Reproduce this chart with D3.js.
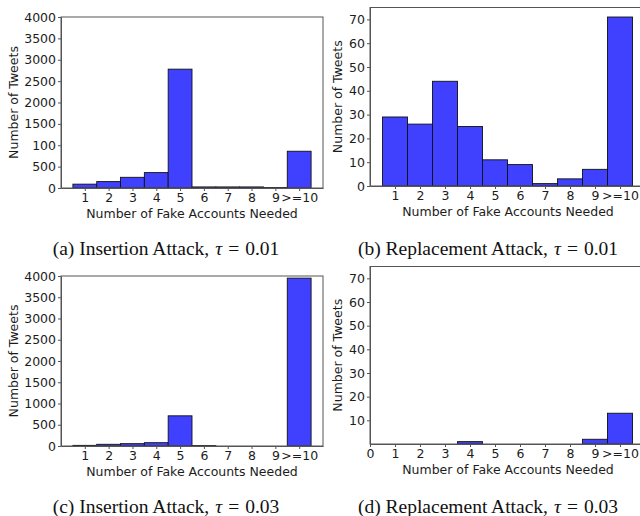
<!DOCTYPE html>
<html>
<head>
<meta charset="utf-8">
<script src="https://cdn.jsdelivr.net/npm/d3@7"></script>
<style>
  body { margin: 0; background: #fff; }
  svg { display: block; overflow: hidden; }
</style>
</head>
<body>
<svg id="chart" width="640" height="516"></svg>
<script>
const bins = [1, 2, 3, 4, 5, 6, 7, 8, 9, 10];
const binLabels = ["1", "2", "3", "4", "5", "6", "7", "8", "9", ">=10"];

// tweets per number of fake accounts
const insertion001 = [90, 150, 250, 360, 2780, 25, 25, 25, 10, 860];
const replacement001 = [29, 26, 44, 25, 11, 9, 1, 3, 7, 71];
const insertion003 = [15, 40, 55, 78, 710, 10, 0, 0, 0, 3950];
const replacement003 = [0, 0, 0, 1, 0, 0, 0, 0, 2, 13];

const insertionTicks = [0, 500, 1000, 1500, 2000, 2500, 3000, 3500, 4000];
// the original panel (a) prints "100" at the 1000 tick
const insertionTickLabelsA = ["0", "500", "100", "1500", "2000", "2500", "3000", "3500", "4000"];
const insertionTickLabelsC = ["0", "500", "1000", "1500", "2000", "2500", "3000", "3500", "4000"];
const replacementTicks = [0, 10, 20, 30, 40, 50, 60, 70];
const replacementTicksD = [10, 20, 30, 40, 50, 60, 70];

const captions = [
  ["(a) Insertion Attack,", "0.01"],
  ["(b) Replacement Attack,", "0.01"],
  ["(c) Insertion Attack,", "0.03"],
  ["(d) Replacement Attack,", "0.03"]
];

const svg = d3.select("#chart");
const fill = "#4040ff";
const ink = "#1c1c1c";
const spine = "#555";

const panels = [
  { values: insertion001, left: 61, right: 323, top: 17, bottom: 188, yMax: 4000,
    yTicks: insertionTicks, yLabels: insertionTickLabelsA, yLabelX: 14, zeroTick: false,
    caption: captions[0], capX: 166, capY: 255 },
  { values: replacement001, left: 370, right: 645, top: 7.5, bottom: 186, yMax: 75,
    yTicks: replacementTicks, yLabels: replacementTicks.map(String), yLabelX: 338, zeroTick: false,
    caption: captions[1], capX: 488, capY: 255 },
  { values: insertion003, left: 61, right: 323, top: 276, bottom: 446, yMax: 4000,
    yTicks: insertionTicks, yLabels: insertionTickLabelsC, yLabelX: 14, zeroTick: false,
    caption: captions[2], capX: 166, capY: 513 },
  { values: replacement003, left: 370, right: 645, top: 266.5, bottom: 444, yMax: 75,
    yTicks: replacementTicksD, yLabels: replacementTicksD.map(String), yLabelX: 338, zeroTick: true,
    caption: captions[3], capX: 488, capY: 513 }
];

panels.forEach(p => {
  const x = d3.scaleLinear().domain([0, 11]).range([p.left, p.right]);
  const y = d3.scaleLinear().domain([0, p.yMax]).range([p.bottom, p.top]);
  const g = svg.append("g");

  // bars (empty bins are skipped)
  g.selectAll("rect")
    .data(bins.map((b, i) => ({ b, v: p.values[i] })).filter(d => d.v > 0))
    .enter()
    .append("rect")
    .attr("x", d => x(d.b - 0.5))
    .attr("width", d => x(d.b + 0.5) - x(d.b - 0.5))
    .attr("y", d => y(d.v))
    .attr("height", d => y(0) - y(d.v))
    .attr("fill", fill)
    .attr("stroke", "#111")
    .attr("stroke-width", 0.9);

  // frame
  g.append("rect")
    .attr("x", p.left).attr("y", p.top)
    .attr("width", p.right - p.left).attr("height", p.bottom - p.top)
    .attr("fill", "none").attr("stroke", spine).attr("stroke-width", 1);

  const xTickVals = p.zeroTick ? [0].concat(bins) : bins;
  const xAxis = d3.axisBottom(x)
    .tickValues(xTickVals)
    .tickFormat(v => v === 0 ? "0" : binLabels[bins.indexOf(v)])
    .tickSize(3).tickSizeOuter(0).tickPadding(2.5);
  const gx = g.append("g").attr("transform", `translate(0,${p.bottom})`).call(xAxis);

  const yAxis = d3.axisLeft(y)
    .tickValues(p.yTicks)
    .tickFormat((v, i) => p.yLabels[i])
    .tickSize(3).tickSizeOuter(0).tickPadding(2);
  const gy = g.append("g").attr("transform", `translate(${p.left},0)`).call(yAxis);

  [gx, gy].forEach(a => {
    a.select(".domain").attr("stroke", spine);
    a.selectAll(".tick line").attr("stroke", spine);
    a.selectAll("text")
      .attr("fill", ink)
      .attr("font-family", "DejaVu Sans")
      .attr("font-size", 12.5);
  });

  g.append("text")
    .attr("x", p.left === 61 ? 192 : 508)
    .attr("y", p.bottom + 29.5)
    .attr("text-anchor", "middle")
    .attr("font-family", "DejaVu Sans")
    .attr("font-size", 12.5)
    .attr("fill", ink)
    .text("Number of Fake Accounts Needed");

  g.append("text")
    .attr("transform", `translate(${p.yLabelX},${(p.top + p.bottom) / 2}) rotate(-90)`)
    .attr("text-anchor", "middle")
    .attr("dy", "0.35em")
    .attr("font-family", "DejaVu Sans")
    .attr("font-size", 12.5)
    .attr("fill", ink)
    .text("Number of Tweets");

  const cap = svg.append("text")
    .attr("x", p.capX)
    .attr("y", p.capY)
    .attr("text-anchor", "middle")
    .attr("font-family", "Liberation Serif")
    .attr("font-size", 19.5)
    .attr("fill", "#111");
  cap.append("tspan").text(p.caption[0]);
  cap.append("tspan").attr("dx", 6).attr("font-style", "italic").text("τ");
  cap.append("tspan").attr("dx", 6).text("=");
  cap.append("tspan").attr("dx", 6).text(p.caption[1]);
});
</script>
</body>
</html>
